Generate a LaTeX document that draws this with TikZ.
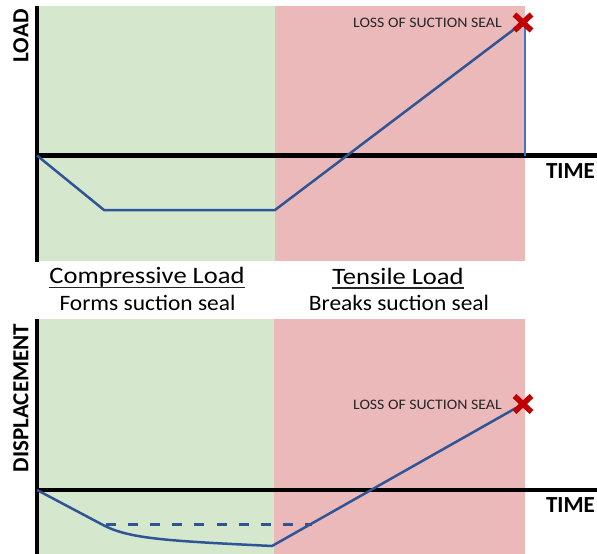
\documentclass[tikz,border=0pt]{standalone}
\usepackage{fontspec}
\setmainfont{Carlito}
\newfontfamily\titlefont[FakeStretch=1.13]{Carlito}
\newfontfamily\subfont[FakeStretch=1.065]{Carlito}
\newfontfamily\notefont[FakeStretch=1.09]{Carlito}
\definecolor{compgreen}{RGB}{213,231,204}
\definecolor{tensred}{RGB}{235,185,186}
\definecolor{curveblue}{RGB}{47,85,151}
\definecolor{lightblue}{RGB}{68,114,196}
\definecolor{failred}{RGB}{192,0,0}
\definecolor{notegray}{RGB}{38,38,38}
\tikzset{
  axisline/.style={line width=4.5pt, black},
  curve/.style={line width=2.5pt, curveblue, line join=round},
  axislabel/.style={inner sep=0pt, font=\fontsize{23}{23}\selectfont\bfseries},
  note/.style={inner sep=0pt, anchor=east, text=notegray, font=\notefont\fontsize{14.5}{14.5}\selectfont},
  phasetitle/.style={inner sep=0pt, anchor=base, font=\titlefont\fontsize{23.5}{23.5}\selectfont},
  phasesub/.style={inner sep=0pt, anchor=base, font=\subfont\fontsize{22}{22}\selectfont},
  failmark/.style={failred, line width=5.5pt},
}
\begin{document}
\begin{tikzpicture}[x=1pt, y=-1pt]
\useasboundingbox (0,0) rectangle (597,554);

% ---------- load vs time ----------
\fill[compgreen] (35,6) rectangle (274.5,261);
\fill[tensred] (274.5,6) rectangle (525.3,261);

\draw[axisline] (37,6) -- (37,262);
\draw[axisline] (35,155.5) -- (597,155.5);

\node[axislabel, rotate=90] (loadlbl) at (21,36) {LOAD};
\node[axislabel] (time1) at (570.5,171) {TIME};

\coordinate (o1) at (37,155.5);
\coordinate (a1) at (104,210);
\coordinate (b1) at (275,210);
\coordinate (p1) at (523,22.5);
\coordinate (v1) at (524.7,155.5);

\draw[lightblue, line width=1.6pt] (v1) -- (524.7,24);
\draw[curve] (o1) -- (a1) -- (b1) -- (p1);

\draw[failmark] (p1) ++(-8.5,-8) -- ++(17,16);
\draw[failmark] (p1) ++(8.5,-8) -- ++(-17,16);
\node[note] (loss1) at (502,22.7) {LOSS OF SUCTION SEAL};

% ---------- phase captions ----------
\node[phasetitle] (comp) at (147,283.3) {Compressive Load};
\draw[line width=1.3pt, black!85] ([yshift=-4pt]comp.base west) -- ([yshift=-4pt]comp.base east);
\node[phasesub] (forms) at (147.5,310) {Forms suction seal};

\node[phasetitle] (tens) at (398,284) {Tensile Load};
\draw[line width=1.3pt, black!85] ([yshift=-4pt]tens.base west) -- ([yshift=-4pt]tens.base east);
\node[phasesub] (breaks) at (399,310) {Breaks suction seal};

% ---------- displacement vs time ----------
\fill[compgreen] (35,319) rectangle (273.5,554);
\fill[tensred] (273.5,319) rectangle (525.3,554);

\draw[axisline] (37,319) -- (37,554);
\draw[axisline] (35,490) -- (597,490);

\node[axislabel, rotate=90] (displbl) at (21,398) {DISPLACEMENT};
\node[axislabel] (time2) at (570.5,505) {TIME};

\coordinate (o2) at (37,490);
\coordinate (a2) at (104,525.5);
\coordinate (c2) at (272,546);
\coordinate (p2) at (523,404);
\coordinate (d1) at (104,524);
\coordinate (d2) at (312,524);

\draw[curve, line width=3pt, dash pattern=on 10pt off 12.1pt, dash phase=20.1pt] (d1) -- (d2);
\draw[curve] (o2) -- (a2) .. controls (130,539) and (170,541) .. (c2) -- (p2);

\draw[failmark] (p2) ++(-8.5,-8) -- ++(17,16);
\draw[failmark] (p2) ++(8.5,-8) -- ++(-17,16);
\node[note] (loss2) at (502,405) {LOSS OF SUCTION SEAL};
\end{tikzpicture}
\end{document}
